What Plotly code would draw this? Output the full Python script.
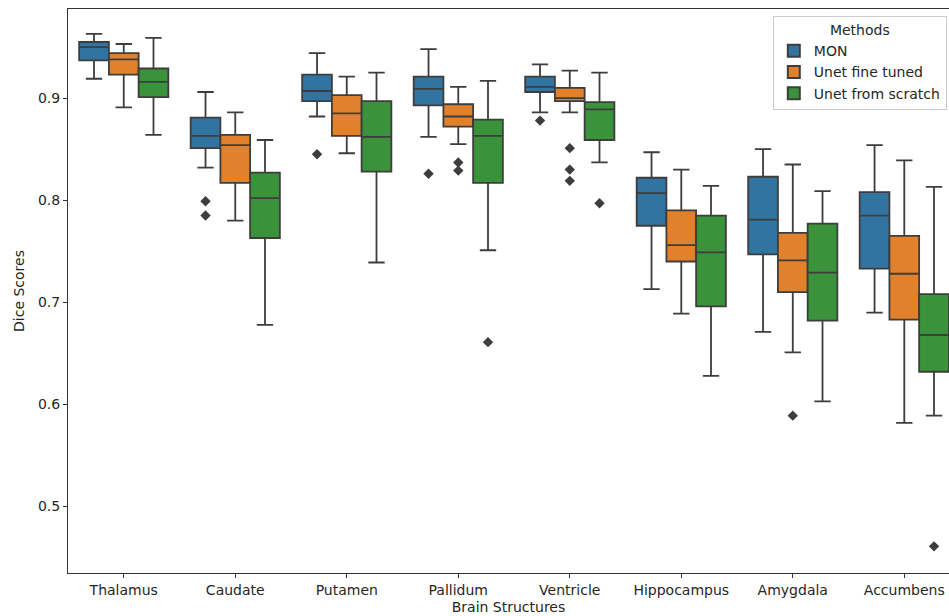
import plotly.graph_objects as go

categories = ["Thalamus", "Caudate", "Putamen", "Pallidum", "Ventricle",
              "Hippocampus", "Amygdala", "Accumbens"]
methods = ["MON", "Unet fine tuned", "Unet from scratch"]
colors = ["#3274a1", "#e1812c", "#3a923a"]

# MON
mon_low = [0.919, 0.832, 0.882, 0.862, 0.886, 0.713, 0.671, 0.690]
mon_q1 = [0.937, 0.851, 0.897, 0.893, 0.906, 0.775, 0.747, 0.733]
mon_med = [0.950, 0.863, 0.907, 0.909, 0.911, 0.807, 0.781, 0.785]
mon_q3 = [0.955, 0.881, 0.923, 0.921, 0.921, 0.822, 0.823, 0.808]
mon_high = [0.963, 0.906, 0.944, 0.948, 0.933, 0.847, 0.850, 0.854]
mon_out = [[], [0.799, 0.785], [0.845], [0.826], [0.878], [], [], []]

# Unet fine tuned
ft_low = [0.891, 0.780, 0.846, 0.855, 0.886, 0.689, 0.651, 0.582]
ft_q1 = [0.923, 0.817, 0.863, 0.872, 0.897, 0.740, 0.710, 0.683]
ft_med = [0.938, 0.854, 0.885, 0.882, 0.900, 0.756, 0.741, 0.728]
ft_q3 = [0.944, 0.864, 0.903, 0.894, 0.910, 0.790, 0.768, 0.765]
ft_high = [0.953, 0.886, 0.921, 0.911, 0.927, 0.830, 0.835, 0.839]
ft_out = [[], [], [], [0.837, 0.829], [0.851, 0.830, 0.819], [], [0.589], []]

# Unet from scratch
sc_low = [0.864, 0.678, 0.739, 0.751, 0.837, 0.628, 0.603, 0.589]
sc_q1 = [0.901, 0.763, 0.828, 0.817, 0.859, 0.696, 0.682, 0.632]
sc_med = [0.916, 0.802, 0.862, 0.863, 0.889, 0.749, 0.729, 0.668]
sc_q3 = [0.929, 0.827, 0.897, 0.879, 0.896, 0.785, 0.777, 0.708]
sc_high = [0.959, 0.859, 0.925, 0.917, 0.925, 0.814, 0.809, 0.813]
sc_out = [[], [], [], [0.661], [0.797], [], [], [0.461]]

y_ticks = [0.5, 0.6, 0.7, 0.8, 0.9]

stats = [
    (mon_low, mon_q1, mon_med, mon_q3, mon_high, mon_out),
    (ft_low, ft_q1, ft_med, ft_q3, ft_high, ft_out),
    (sc_low, sc_q1, sc_med, sc_q3, sc_high, sc_out),
]

edge = "#3d3d3d"
group_w = 0.8
bw = group_w / 3

fig = go.Figure()
for m, (lo, q1, med, q3, hi, out) in enumerate(stats):
    pos = [i + (m - 1) * bw for i in range(len(categories))]
    fig.add_trace(go.Box(
        x=pos, q1=q1, median=med, q3=q3, lowerfence=lo, upperfence=hi,
        width=bw, name=methods[m], fillcolor=colors[m],
        line=dict(color=edge, width=1.8), whiskerwidth=0.55,
        boxpoints=False, legendgroup=methods[m], showlegend=True,
        hoverinfo="skip",
    ))
    ox, oy = [], []
    for i, vals in enumerate(out):
        for v in vals:
            ox.append(pos[i])
            oy.append(v)
    fig.add_trace(go.Scatter(
        x=ox, y=oy, mode="markers", showlegend=False, legendgroup=methods[m],
        marker=dict(symbol="diamond", size=8, color=edge),
        hoverinfo="skip",
    ))

font = "DejaVu Sans, Arial, sans-serif"
fig.update_layout(
    width=949, height=616,
    margin=dict(l=67.5, r=0, t=9, b=42.7),
    paper_bgcolor="white", plot_bgcolor="white",
    font=dict(family=font, size=14, color="#262626"),
    showlegend=True,
    legend=dict(
        title=dict(text="Methods", side="top center", font=dict(size=14)),
        x=0.8, y=0.9876, xanchor="left", yanchor="top",
        bordercolor="#cccccc", borderwidth=1, bgcolor="rgba(255,255,255,0.8)",
        font=dict(size=14), itemsizing="constant", tracegroupgap=0,
    ),
)
fig.update_xaxes(
    range=[-0.5, 7.401], tickmode="array",
    tickvals=list(range(len(categories))), ticktext=categories,
    showline=True, linecolor="#333333", linewidth=1, mirror=True,
    ticks="outside", ticklen=4, tickcolor="#333333", showgrid=False,
    zeroline=False,
    title=dict(text="Brain Structures", standoff=5, font=dict(size=14)),
)
fig.update_yaxes(
    range=[0.4349, 0.9873], tickmode="array", tickvals=y_ticks,
    ticktext=[f"{v:.1f}" for v in y_ticks],
    showline=True, linecolor="#333333", linewidth=1,
    ticks="outside", ticklen=4, tickcolor="#333333", showgrid=False,
    zeroline=False,
    title=dict(text="Dice Scores", standoff=10, font=dict(size=14)),
)
fig.write_html(
    "out.html",
    config={"displayModeBar": False},
    post_script="document.body.style.margin='0';document.body.style.padding='0';"
                "document.body.style.overflow='hidden';",
)
